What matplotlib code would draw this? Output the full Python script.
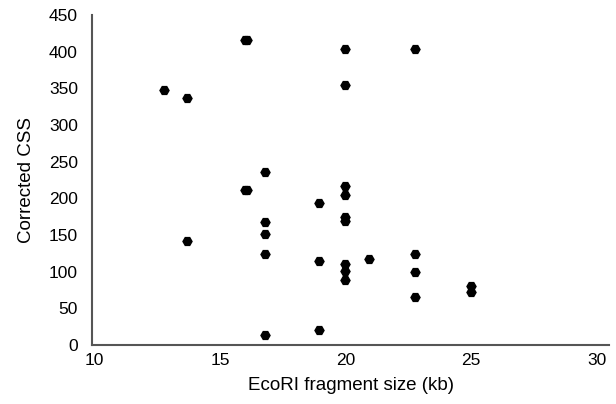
import matplotlib
matplotlib.use("Agg")
import matplotlib.pyplot as plt

plt.rcParams['font.family'] = ['Liberation Sans', 'DejaVu Sans']

# EcoRI fragment size (kb) and corrected CSS
fragment_kb = [12.75, 13.69, 13.69,
               15.98, 15.98, 16.05, 16.05,
               16.8, 16.8, 16.8, 16.8, 16.8,
               18.94, 18.94, 18.94,
               19.99, 19.99, 19.99, 19.99, 19.99, 19.99, 19.99, 19.99, 19.99,
               20.92,
               22.78, 22.78, 22.78, 22.78,
               25.0, 25.0]
css = [348, 337, 142,
       416, 211, 416, 211,
       236, 168, 151, 124, 14,
       194, 115, 20,
       404, 355, 217, 204, 175, 169, 110, 101, 88,
       117,
       404, 124, 99, 66,
       81, 72]

x_ticks = [10, 15, 20, 25, 30]
y_ticks = [0, 50, 100, 150, 200, 250, 300, 350, 400, 450]

fig = plt.figure(figsize=(6.16, 4.04), dpi=100)
ax = fig.add_axes([0.149, 0.146, 0.84, 0.817])

ax.plot(fragment_kb, css, linestyle='none', marker='H', markersize=6.5,
        color='black')

ax.set_xlim(9.88, 30.5)
ax.set_ylim(0, 450)
ax.set_xticks(x_ticks)
ax.set_yticks(y_ticks)
ax.tick_params(axis='x', length=0, labelsize=12.5, pad=6)
ax.tick_params(axis='y', length=0, labelsize=12.5, pad=10)
for s in ['top', 'right']:
    ax.spines[s].set_visible(False)
for s in ['left', 'bottom']:
    ax.spines[s].set_color('#555555')
    ax.spines[s].set_linewidth(1.5)

ax.set_xlabel("EcoRI fragment size (kb)", fontsize=13.5, labelpad=6)
ax.set_ylabel("Corrected CSS", fontsize=13.5, labelpad=10)

fig.savefig("out.png", dpi=100)
